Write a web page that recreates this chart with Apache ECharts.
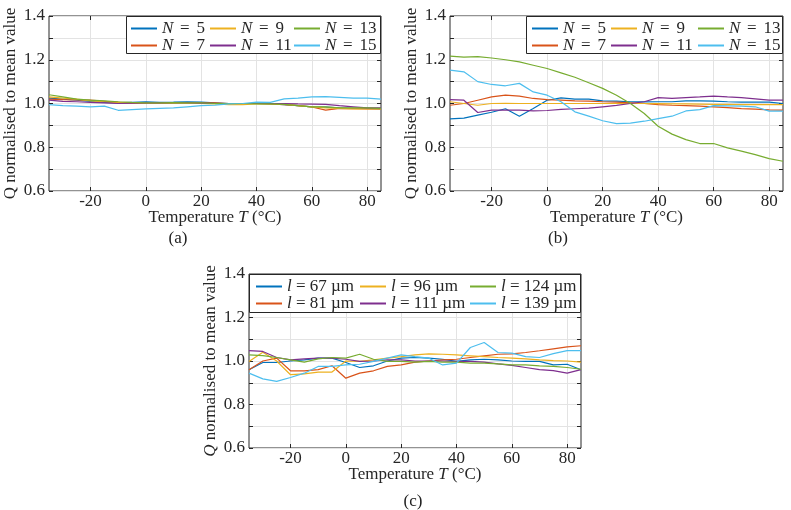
<!DOCTYPE html>
<html><head><meta charset="utf-8">
<script src="https://cdn.jsdelivr.net/npm/echarts@6/dist/echarts.min.js"></script>
<style>html,body{margin:0;padding:0;background:#fff}#c{width:791px;height:510px}</style>
</head><body><div id="c"></div>
<script>
const temps = [-35,-30,-25,-20,-15,-10,-5,0,5,10,15,20,25,30,35,40,45,50,55,60,65,70,75,80,85];
const xTicks = [-20,0,20,40,60,80];
const yTickLabels = [0.6,0.8,1.0,1.2,1.4];

const seriesNamesN = ['N = 5','N = 7','N = 9','N = 11','N = 13','N = 15'];
const seriesNamesL = ['l = 67 µm','l = 81 µm','l = 96 µm','l = 111 µm','l = 124 µm','l = 139 µm'];

// (a)
const aN5  = [1.025,1.02,1.015,1.01,1.005,1.003,1.005,1.007,1.005,1.006,1.008,1.006,1.003,1.0,1.0,1.0,0.998,0.995,0.99,0.985,0.983,0.98,0.978,0.978,0.975];
const aN7  = [1.02,1.018,1.017,1.015,1.01,1.005,1.0,1.0,1.0,1.003,1.003,1.003,1.003,1.0,1.0,1.0,0.998,0.995,0.99,0.984,0.97,0.978,0.976,0.975,0.975];
const aN9  = [1.03,1.025,1.02,1.012,1.008,1.005,1.002,1.0,1.0,1.002,1.002,1.0,0.998,0.995,0.995,0.998,0.998,0.997,0.99,0.985,0.98,0.978,0.975,0.975,0.975];
const aN11 = [1.015,1.01,1.008,1.005,1.003,1.0,1.002,1.003,1.003,1.004,1.004,1.002,1.0,1.0,1.0,1.0,1.0,1.0,0.998,0.997,0.996,0.99,0.985,0.98,0.98];
const aN13 = [1.04,1.03,1.02,1.015,1.012,1.008,1.005,1.003,1.003,1.004,1.003,1.003,1.0,1.0,1.0,0.998,0.998,0.996,0.99,0.985,0.985,0.98,0.98,0.98,0.978];
const aN15 = [0.995,0.99,0.988,0.985,0.988,0.969,0.972,0.975,0.978,0.98,0.985,0.99,0.993,0.998,1.0,1.006,1.005,1.021,1.025,1.03,1.031,1.028,1.025,1.025,1.02];

// (b)
const bN5  = [0.93,0.933,0.947,0.96,0.976,0.942,0.977,1.015,1.026,1.02,1.02,1.012,1.011,1.008,1.007,1.008,1.008,1.012,1.012,1.011,1.008,1.006,1.006,1.006,1.0];
const bN7  = [0.992,1.0,1.015,1.03,1.038,1.034,1.023,1.018,1.015,1.012,1.011,1.008,1.006,1.003,1.0,0.995,0.992,0.99,0.988,0.985,0.981,0.977,0.974,0.971,0.97];
const bN9  = [1.008,1.0,0.992,1.0,1.001,1.0,1.0,1.0,1.0,1.0,1.0,1.0,1.0,1.0,1.0,0.999,0.998,0.998,0.997,0.996,0.996,0.995,0.995,0.995,0.995];
const bN11 = [1.018,1.015,0.959,0.97,0.97,0.97,0.966,0.968,0.973,0.976,0.979,0.985,0.991,1.0,1.008,1.027,1.023,1.027,1.03,1.034,1.03,1.027,1.021,1.015,1.015];
const bN13 = [1.217,1.212,1.214,1.208,1.2,1.19,1.175,1.16,1.14,1.12,1.095,1.069,1.038,1.0,0.954,0.896,0.86,0.835,0.817,0.817,0.797,0.782,0.766,0.748,0.736];
const bN15 = [1.153,1.145,1.1,1.087,1.081,1.092,1.053,1.038,1.008,0.962,0.942,0.921,0.908,0.91,0.919,0.931,0.942,0.966,0.972,0.99,0.989,0.988,0.985,0.965,0.965];

// (c)
const cL67  = [0.96,0.993,0.993,1.0,1.005,1.013,1.013,0.993,0.97,0.978,1.0,1.013,1.016,1.013,1.008,0.998,1.005,1.008,1.005,1.0,0.998,0.998,0.982,0.985,0.96];
const cL81  = [0.96,1.0,1.013,0.955,0.955,0.96,0.978,0.921,0.944,0.955,0.975,0.982,0.995,1.0,1.005,1.008,1.016,1.024,1.031,1.033,1.039,1.047,1.056,1.065,1.07];
const cL96  = [0.998,1.04,1.0,0.937,0.941,0.949,0.949,1.0,0.998,1.005,1.013,1.02,1.028,1.033,1.031,1.028,1.024,1.02,1.016,1.013,1.01,1.005,1.002,1.0,0.995];
const cL111 = [1.048,1.044,1.016,1.005,1.01,1.013,1.013,1.008,0.998,1.0,1.005,1.005,1.0,1.0,1.0,0.998,0.998,0.995,0.987,0.98,0.97,0.96,0.956,0.944,0.96];
const cL124 = [1.028,1.025,1.016,1.005,0.995,1.01,1.016,1.013,1.031,1.008,0.998,0.998,0.995,0.998,0.995,0.995,0.99,0.99,0.987,0.982,0.982,0.978,0.975,0.97,0.962];
const cL139 = [0.944,0.918,0.906,0.924,0.944,0.975,0.975,0.982,0.985,0.998,1.013,1.028,1.02,1.013,0.982,0.99,1.062,1.085,1.039,1.036,1.02,1.016,1.034,1.048,1.048];

const colors = ['#0072BD','#D95319','#EDB120','#7E2F8E','#77AC30','#4DBEEE'];
const FONT = 'Liberation Serif';
const TXT = '#262626';

const panels = [
  {grid:{left:49, top:16, width:332, height:175}, names:seriesNamesN, data:[aN5,aN7,aN9,aN11,aN13,aN15],
   box:[126,16,255,37], legCols:[130,209,293], legTop:20, cap:{t:'(a)',x:178,y:239}, qItalic:false, eqPad:2.5},
  {grid:{left:450, top:16, width:333, height:175}, names:seriesNamesN, data:[bN5,bN7,bN9,bN11,bN13,bN15],
   box:[526,16,257,37], legCols:[531,610,697], legTop:20, cap:{t:'(b)',x:558,y:239}, qItalic:false, eqPad:2.5},
  {grid:{left:249, top:274, width:332, height:174}, names:seriesNamesL, data:[cL67,cL81,cL96,cL111,cL124,cL139],
   box:[249,274,332,38], legCols:[255,359,469], legTop:278, cap:{t:'(c)',x:413,y:502}, qItalic:true, eqPad:0}
];

const grids=[], xAxes=[], yAxes=[], series=[], legends=[], graphics=[];
const legendFormatter = function(name){
  const sym = name.charAt(0);
  const parts = name.slice(1).split('=');
  return '{i|' + sym + '}{r|' + parts[0] + '}{e|=}{r|' + parts[1] + '}';
};
const legendOrder = [[0,1],[2,3],[4,5]];
panels.forEach((p, gi) => {
  grids.push(Object.assign({show:true, borderColor:'#262626', borderWidth:1, backgroundColor:'#fff'}, p.grid));
  xAxes.push({
    type:'value', gridIndex:gi, min:-35, max:85, position:'bottom',
    name:'{r|Temperature }{i|T}{r| (°C)}', nameLocation:'middle', nameGap:18, nameMoveOverlap:false,
    nameTextStyle:{color:TXT, fontFamily:FONT, fontSize:17, rich:{r:{fontFamily:FONT,fontSize:17,color:TXT}, i:{fontFamily:FONT,fontSize:17,fontStyle:'italic',color:TXT}}},
    axisLine:{show:false, onZero:false},
    axisTick:{show:true, inside:true, length:4, customValues:xTicks, lineStyle:{color:'#262626'}},
    axisLabel:{customValues:xTicks, margin:2, color:TXT, fontFamily:FONT, fontSize:17, formatter:v=>String(v)},
    splitLine:{show:true, lineStyle:{color:'#e3e3e3', width:1}}
  });
  xAxes.push({
    type:'value', gridIndex:gi, min:-35, max:85, position:'top',
    axisLine:{show:false, onZero:false},
    axisTick:{show:true, inside:true, length:4, customValues:xTicks, lineStyle:{color:'#262626'}},
    axisLabel:{show:false}, splitLine:{show:false}
  });
  yAxes.push({
    type:'value', gridIndex:gi, min:0.6, max:1.4, interval:0.1, position:'left',
    name: p.qItalic ? '{i|Q}{r| normalised to mean value}' : '{r|Q normalised to mean value}',
    nameLocation:'middle', nameGap:30, nameMoveOverlap:false,
    nameTextStyle:{color:TXT, fontFamily:FONT, fontSize:17, rich:{r:{fontFamily:FONT,fontSize:17,color:TXT}, i:{fontFamily:FONT,fontSize:17,fontStyle:'italic',color:TXT}}},
    axisLine:{show:false, onZero:false},
    axisTick:{show:true, inside:true, length:4, lineStyle:{color:'#262626'}},
    axisLabel:{customValues:yTickLabels, margin:4, color:TXT, fontFamily:FONT, fontSize:17, formatter:v=>Number(v).toFixed(1)},
    splitLine:{show:true, lineStyle:{color:'#e3e3e3', width:1}}
  });
  yAxes.push({
    type:'value', gridIndex:gi, min:0.6, max:1.4, interval:0.1, position:'right',
    axisLine:{show:false, onZero:false},
    axisTick:{show:true, inside:true, length:4, lineStyle:{color:'#262626'}},
    axisLabel:{show:false}, splitLine:{show:false}
  });
  p.names.forEach((nm, si) => {
    series.push({
      type:'line', name:nm, xAxisIndex:gi*2, yAxisIndex:gi*2, symbol:'none', smooth:false,
      color:colors[si], lineStyle:{width:1.2, color:colors[si]},
      data: temps.map((t,k)=>[t, p.data[si][k]]), z:3, silent:true
    });
  });
  graphics.push({type:'rect', shape:{x:p.box[0]+0.5, y:p.box[1]+0.5, width:p.box[2]-1, height:p.box[3]}, style:{fill:'#fff', stroke:'#262626', lineWidth:1}, z:50});
  graphics.push({type:'text', x:p.cap.x, y:p.cap.y, style:{text:p.cap.t, font:'17px "Liberation Serif"', fill:'#222', align:'center', verticalAlign:'middle', textAlign:'center', textVerticalAlign:'middle'}, z:50});
  legendOrder.forEach((pair, c) => {
    legends.push({
      orient:'vertical', left:p.legCols[c], top:p.legTop, padding:0, itemGap:0,
      itemWidth:26, itemHeight:16, z:60, selectedMode:false,
      data: pair.map(k => ({name: p.names[k]})),
      lineStyle:{width:2}, itemStyle:{opacity:0},
      formatter: legendFormatter,
      textStyle:{color:TXT, fontFamily:FONT, fontSize:17, lineHeight:16,
        rich:{i:{fontFamily:FONT,fontSize:17,fontStyle:'italic',color:TXT,lineHeight:16},
              r:{fontFamily:FONT,fontSize:17,color:TXT,lineHeight:16},
              e:{fontFamily:FONT,fontSize:17,color:TXT,lineHeight:16,padding:[0,p.eqPad,0,p.eqPad]}}}
    });
  });
});

const chart = echarts.init(document.getElementById('c'), null, {renderer:'canvas'});
chart.setOption({
  animation:false, backgroundColor:'#fff',
  grid:grids, xAxis:xAxes, yAxis:yAxes, series:series, legend:legends, graphic:{elements:graphics}
});
</script></body></html>
